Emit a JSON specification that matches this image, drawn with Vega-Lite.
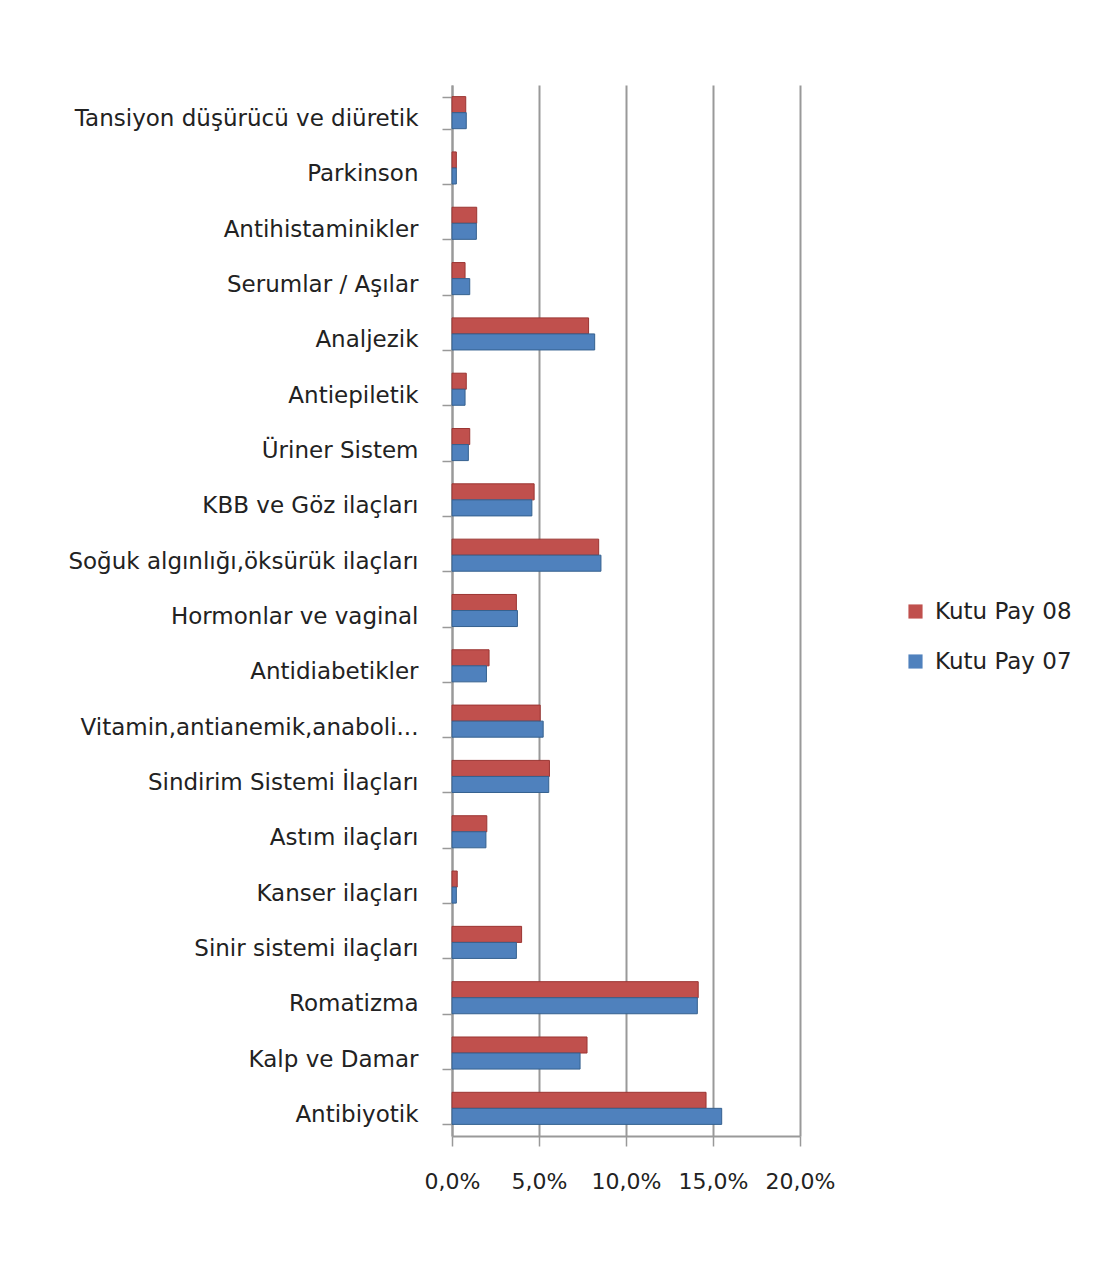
{
  "$schema": "https://vega.github.io/schema/vega-lite/v6.json",
  "autosize": {"type": "none"},
  "width": 348,
  "height": 1051,
  "padding": {"left": 452, "top": 85, "right": 304, "bottom": 128},
  "background": "white",
  "data": {"values": [
    {"kategori": "Tansiyon düşürücü ve diüretik", "seri": "Kutu Pay 08", "pay": 0.0079},
    {"kategori": "Tansiyon düşürücü ve diüretik", "seri": "Kutu Pay 07", "pay": 0.0082},
    {"kategori": "Parkinson", "seri": "Kutu Pay 08", "pay": 0.0025},
    {"kategori": "Parkinson", "seri": "Kutu Pay 07", "pay": 0.0025},
    {"kategori": "Antihistaminikler", "seri": "Kutu Pay 08", "pay": 0.0142},
    {"kategori": "Antihistaminikler", "seri": "Kutu Pay 07", "pay": 0.014},
    {"kategori": "Serumlar / Aşılar", "seri": "Kutu Pay 08", "pay": 0.0075},
    {"kategori": "Serumlar / Aşılar", "seri": "Kutu Pay 07", "pay": 0.0102},
    {"kategori": "Analjezik", "seri": "Kutu Pay 08", "pay": 0.0785},
    {"kategori": "Analjezik", "seri": "Kutu Pay 07", "pay": 0.082},
    {"kategori": "Antiepiletik", "seri": "Kutu Pay 08", "pay": 0.0082},
    {"kategori": "Antiepiletik", "seri": "Kutu Pay 07", "pay": 0.0075},
    {"kategori": "Üriner Sistem", "seri": "Kutu Pay 08", "pay": 0.0102},
    {"kategori": "Üriner Sistem", "seri": "Kutu Pay 07", "pay": 0.0094},
    {"kategori": "KBB ve Göz ilaçları", "seri": "Kutu Pay 08", "pay": 0.0472},
    {"kategori": "KBB ve Göz ilaçları", "seri": "Kutu Pay 07", "pay": 0.0459},
    {"kategori": "Soğuk algınlığı,öksürük ilaçları", "seri": "Kutu Pay 08", "pay": 0.0843},
    {"kategori": "Soğuk algınlığı,öksürük ilaçları", "seri": "Kutu Pay 07", "pay": 0.0856},
    {"kategori": "Hormonlar ve vaginal", "seri": "Kutu Pay 08", "pay": 0.037},
    {"kategori": "Hormonlar ve vaginal", "seri": "Kutu Pay 07", "pay": 0.0376},
    {"kategori": "Antidiabetikler", "seri": "Kutu Pay 08", "pay": 0.0213},
    {"kategori": "Antidiabetikler", "seri": "Kutu Pay 07", "pay": 0.0198},
    {"kategori": "Vitamin,antianemik,anaboli...", "seri": "Kutu Pay 08", "pay": 0.0507},
    {"kategori": "Vitamin,antianemik,anaboli...", "seri": "Kutu Pay 07", "pay": 0.0524},
    {"kategori": "Sindirim Sistemi İlaçları", "seri": "Kutu Pay 08", "pay": 0.056},
    {"kategori": "Sindirim Sistemi İlaçları", "seri": "Kutu Pay 07", "pay": 0.0556},
    {"kategori": "Astım ilaçları", "seri": "Kutu Pay 08", "pay": 0.02},
    {"kategori": "Astım ilaçları", "seri": "Kutu Pay 07", "pay": 0.0195},
    {"kategori": "Kanser ilaçları", "seri": "Kutu Pay 08", "pay": 0.003},
    {"kategori": "Kanser ilaçları", "seri": "Kutu Pay 07", "pay": 0.0025},
    {"kategori": "Sinir sistemi ilaçları", "seri": "Kutu Pay 08", "pay": 0.04},
    {"kategori": "Sinir sistemi ilaçları", "seri": "Kutu Pay 07", "pay": 0.037},
    {"kategori": "Romatizma", "seri": "Kutu Pay 08", "pay": 0.1415},
    {"kategori": "Romatizma", "seri": "Kutu Pay 07", "pay": 0.141},
    {"kategori": "Kalp ve Damar", "seri": "Kutu Pay 08", "pay": 0.0776},
    {"kategori": "Kalp ve Damar", "seri": "Kutu Pay 07", "pay": 0.0736},
    {"kategori": "Antibiyotik", "seri": "Kutu Pay 08", "pay": 0.146},
    {"kategori": "Antibiyotik", "seri": "Kutu Pay 07", "pay": 0.155}
  ]},
  "mark": {"type": "bar", "strokeWidth": 1},
  "encoding": {
    "y": {
      "field": "kategori",
      "type": "nominal",
      "sort": null,
      "scale": {"paddingInner": 0.42, "paddingOuter": 0.21},
      "axis": {
        "title": null,
        "labelFont": "DejaVu Sans",
        "labelFontSize": 23,
        "labelColor": "#222222",
        "labelPadding": 24,
        "labelLimit": 0,
        "labelOffset": 6,
        "tickBand": "extent",
        "tickSize": 10,
        "tickColor": "#999999",
        "tickWidth": 1.5,
        "domainColor": "#999999",
        "domainWidth": 2,
        "grid": false
      }
    },
    "yOffset": {
      "field": "seri",
      "type": "nominal",
      "sort": ["Kutu Pay 08", "Kutu Pay 07"]
    },
    "x": {
      "field": "pay",
      "type": "quantitative",
      "scale": {"domain": [0, 0.2], "nice": false},
      "axis": {
        "title": null,
        "values": [0, 0.05, 0.1, 0.15, 0.2],
        "labelExpr": "replace(format(datum.value, '.1%'), '.', ',')",
        "labelFont": "DejaVu Sans",
        "labelFontSize": 22,
        "labelColor": "#222222",
        "labelPadding": 25,
        "labelFlush": false,
        "labelOverlap": false,
        "tickSize": 10,
        "tickColor": "#999999",
        "tickWidth": 1.5,
        "domainColor": "#999999",
        "domainWidth": 2,
        "grid": true,
        "gridColor": "#999999",
        "gridWidth": 2
      }
    },
    "color": {
      "field": "seri",
      "type": "nominal",
      "scale": {"domain": ["Kutu Pay 08", "Kutu Pay 07"], "range": ["#C0504D", "#4F81BD"]},
      "legend": {
        "title": null,
        "orient": "none",
        "legendX": 452,
        "legendY": 515,
        "symbolType": "square",
        "symbolSize": 200,
        "symbolStrokeWidth": 0,
        "labelFont": "DejaVu Sans",
        "labelFontSize": 23,
        "labelColor": "#222222",
        "labelLimit": 0,
        "rowPadding": 26,
        "labelOffset": 8
      }
    },
    "stroke": {
      "field": "seri",
      "type": "nominal",
      "scale": {"domain": ["Kutu Pay 08", "Kutu Pay 07"], "range": ["#9B3532", "#35618F"]},
      "legend": null
    }
  },
  "config": {"view": {"stroke": null}}
}
